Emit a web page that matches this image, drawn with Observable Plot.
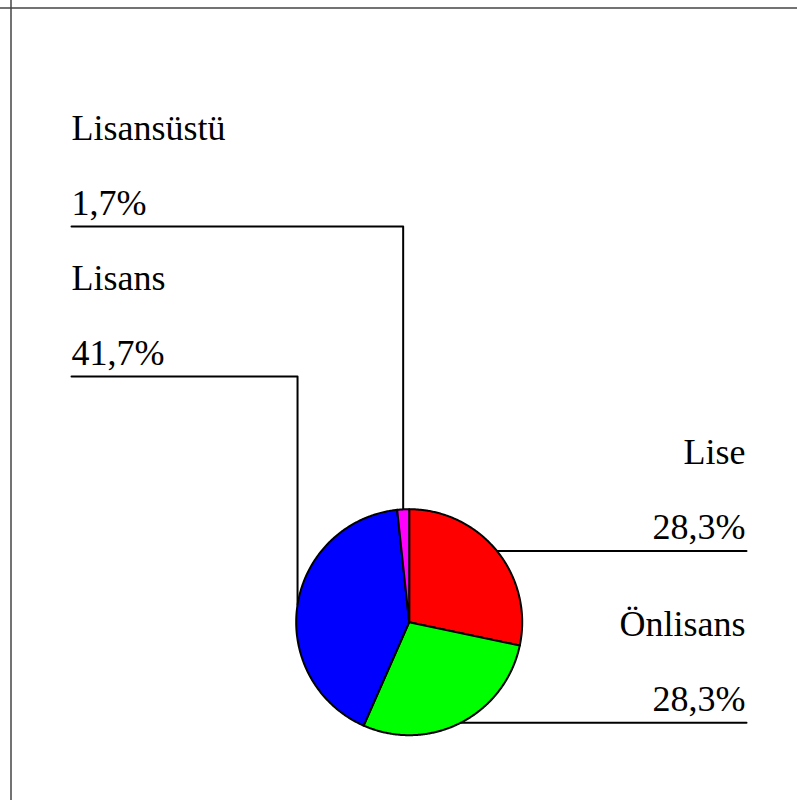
<!DOCTYPE html>
<html>
<head>
<meta charset="utf-8">
<script src="https://cdn.jsdelivr.net/npm/d3@7"></script>
<script src="https://cdn.jsdelivr.net/npm/@observablehq/plot@0.6"></script>
<style>
  html, body { margin: 0; padding: 0; background: #fff; }
  #chart svg { display: block; }
  #chart svg text { font-family: "Liberation Serif", "Times New Roman", Tinos, serif !important; }
</style>
</head>
<body>
<div id="chart"></div>
<script>
// ---- data ----
const categories = ["Lise", "Önlisans", "Lisans", "Lisansüstü"];
const values = [28.3, 28.3, 41.7, 1.7];
const valueLabels = ["28,3%", "28,3%", "41,7%", "1,7%"];

// ---- layout ----
const W = 797, H = 800;
const cx = 408.7, cy = 621.7, R = 113;
const leftX = 71, rightX = 746;
const side = {"Lise": "right", "Önlisans": "right", "Lisans": "left", "Lisansüstü": "left"};
const leftLineY = {"Lisans": 376, "Lisansüstü": 226};

const pie = d3.pie().sort(null).value(d => d.value)(
  categories.map((c, i) => ({cat: c, value: values[i], label: valueLabels[i]}))
);

// slice polygons
const slicePts = [];
for (const p of pie) {
  const c = p.data.cat;
  slicePts.push({cat: c, x: cx, y: cy});
  const n = Math.max(2, Math.ceil((p.endAngle - p.startAngle) / (Math.PI / 360)));
  for (let k = 0; k <= n; k++) {
    const a = p.startAngle + (p.endAngle - p.startAngle) * k / n;
    slicePts.push({cat: c, x: cx + R * Math.sin(a), y: cy - R * Math.cos(a)});
  }
}

// leader lines and text
const leaderPts = [];
const texts = [];
for (const p of pie) {
  const c = p.data.cat;
  const a = (p.startAngle + p.endAngle) / 2;
  const ax = cx + R * Math.sin(a), ay = cy - R * Math.cos(a);
  let lineY;
  if (side[c] === "right") {
    lineY = ay;
    leaderPts.push({cat: c, x: ax, y: ay}, {cat: c, x: rightX, y: ay});
  } else {
    lineY = leftLineY[c];
    leaderPts.push({cat: c, x: ax, y: ay}, {cat: c, x: ax, y: lineY}, {cat: c, x: leftX, y: lineY});
  }
  const tx = side[c] === "right" ? rightX - 1 : leftX;
  const anchor = side[c] === "right" ? "end" : "start";
  texts.push({t: c, x: tx, y: lineY - 87, anchor});
  texts.push({t: p.data.label, x: tx, y: lineY - 12, anchor});
}

const font = "Liberation Serif, Times New Roman, serif";

const chart = Plot.plot({
  width: W,
  height: H,
  margin: 0,
  x: {domain: [0, W], range: [0, W], axis: null},
  y: {domain: [0, H], range: [0, H], axis: null},
  color: {domain: categories, range: ["#ff0000", "#00ff00", "#0000ff", "#ff00ff"]},
  style: {background: "#fff", fontFamily: font},
  marks: [
    Plot.ruleX([10.5], {stroke: "#444", strokeWidth: 1.5}),
    Plot.ruleY([7.5], {stroke: "#444", strokeWidth: 1.5}),
    Plot.line(leaderPts, {x: "x", y: "y", z: "cat", stroke: "#000", strokeWidth: 2}),
    Plot.line(slicePts, {x: "x", y: "y", z: "cat", fill: "cat", stroke: "#000", strokeWidth: 2, curve: "linear-closed", strokeLinejoin: "round"}),
    Plot.text(texts.filter(d => d.anchor === "start"), {x: "x", y: "y", text: "t", textAnchor: "start", lineAnchor: "bottom", fontSize: 36, fill: "#000", fontFamily: font}),
    Plot.text(texts.filter(d => d.anchor === "end"), {x: "x", y: "y", text: "t", textAnchor: "end", lineAnchor: "bottom", fontSize: 36, fill: "#000", fontFamily: font})
  ]
});
document.getElementById("chart").appendChild(chart);
</script>
</body>
</html>
